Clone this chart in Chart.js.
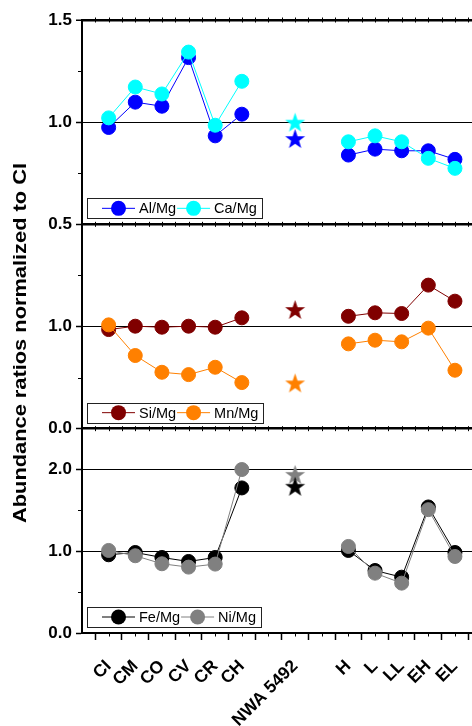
<!DOCTYPE html>
<html><head><meta charset="utf-8">
<script src="https://cdn.jsdelivr.net/npm/chart.js@4.4.1/dist/chart.umd.min.js"></script>
<style>html,body{margin:0;padding:0;background:#fff;}canvas{display:block;}</style>
</head><body>
<canvas id="c" width="472" height="726"></canvas>
<script>
// ---- data ----
const categories = ['CI','CM','CO','CV','CR','CH','','NWA 5492','','H','L','LL','EH','EL'];
const starCategory = 'NWA 5492';
const alMg = [0.974,1.098,1.078,1.316,0.933,1.039,null,0.92,null,0.839,0.868,0.86,0.86,0.818];
const caMg = [1.021,1.172,1.138,1.343,0.985,1.20,null,1.00,null,0.904,0.933,0.904,0.823,0.774];
const siMg = [0.97,1.003,0.993,1.003,0.993,1.085,null,1.167,null,1.10,1.134,1.127,1.405,1.248];
const mnMg = [1.016,0.716,0.552,0.529,0.601,0.451,null,0.448,null,0.83,0.866,0.85,0.984,0.572];
const feMg = [0.957,0.985,0.924,0.875,0.924,1.775,null,1.795,null,1.01,0.765,0.683,1.542,0.985];
const niMg = [1.01,0.945,0.847,0.806,0.843,2.0,null,1.94,null,1.059,0.732,0.61,1.509,0.936];
const topTickLabels = [0.5,1.0,1.5];
const midTickLabels = [0.0,1.0];
const botTickLabels = [0.0,1.0,2.0];
const yTitle = 'Abundance ratios normalized to CI';

// ---- helpers ----
const FONT = '"Liberation Sans", Arial, Helvetica, sans-serif';
const starIdx = categories.indexOf(starCategory);
function makeStar(color, r) {
  const c = document.createElement('canvas');
  const s = Math.ceil(r * 2 + 2);
  c.width = s; c.height = s;
  const g = c.getContext('2d');
  g.fillStyle = color; g.beginPath();
  for (let k = 0; k < 10; k++) {
    const rad = k % 2 === 0 ? r : r * 0.4;
    const a = -Math.PI / 2 + k * Math.PI / 5;
    g.lineTo(s / 2 + rad * Math.cos(a), s / 2 + rad * Math.sin(a) + r * 0.1);
  }
  g.closePath(); g.fill();
  return c;
}
function circles(vals) { return vals.map((v, i) => ({x: i, y: i === starIdx ? null : v})); }
function stars(vals) { return vals.map((v, i) => ({x: i, y: i === starIdx ? v : null})); }

const series = [
  {label:'Al/Mg', vals: alMg, color:'#0000FF', axis:'yTop', order:1, starOrder:0},
  {label:'Ca/Mg', vals: caMg, color:'#00FFFF', axis:'yTop', order:0, starOrder:1},
  {label:'Si/Mg', vals: siMg, color:'#800000', axis:'yMid', order:1, starOrder:1},
  {label:'Mn/Mg', vals: mnMg, color:'#FF8000', axis:'yMid', order:0, starOrder:0},
  {label:'Fe/Mg', vals: feMg, color:'#000000', axis:'yBot', order:1, starOrder:0},
  {label:'Ni/Mg', vals: niMg, color:'#808080', axis:'yBot', order:0, starOrder:1},
];
const datasets = [];
series.forEach(s => {
  datasets.push({label: s.label, data: circles(s.vals), yAxisID: s.axis, order: s.order + 2,
    borderColor: s.color, backgroundColor: s.color, borderWidth: 1, tension: 0,
    pointRadius: 7, pointBorderWidth: 1, pointBackgroundColor: s.color, pointBorderColor: s.color,
    isLegend: true});
  datasets.push({label: s.label + ' star', data: stars(s.vals), yAxisID: s.axis, order: s.starOrder,
    showLine: false, borderColor: s.color, backgroundColor: s.color,
    pointStyle: makeStar(s.color, 10.5), pointRadius: 10, isLegend: false});
});

const axisLabels = {yTop: topTickLabels, yMid: midTickLabels, yBot: botTickLabels};
function yAxis(min, max, step, labels, lines, weight) {
  return {
    type: 'linear', position: 'left', stack: 'panels', stackWeight: 1, weight,
    min, max,
    border: {display: true, color: '#000', width: 2},
    grid: {
      color: c => (lines.includes(c.tick.value) || c.tick.value === max) ? '#000' : 'rgba(0,0,0,0)',
      lineWidth: c => c.tick.value === max ? 2.5 : 1,
      tickColor: c => labels.includes(c.tick.value) ? '#000' : 'rgba(0,0,0,0)',
      tickLength: 6, tickWidth: 1.5
    },
    ticks: {
      stepSize: step, autoSkip: false, padding: 4, color: '#000',
      font: {family: FONT, size: 17, weight: 'bold'},
      callback: v => labels.includes(v) ? v.toFixed(1) : ''
    },
    afterFit: s => { s.width = 82; s.paddingTop = 0; s.paddingBottom = 0; }
  };
}

// minor ticks and mirror ticks on panel top lines
const minorTicks = {
  id: 'minorTicks',
  afterDatasetsDraw(chart) {
    const ctx = chart.ctx, area = chart.chartArea, xs = chart.scales.x;
    ctx.save();
    ctx.strokeStyle = '#000'; ctx.lineWidth = 1;
    ctx.beginPath();
    ['yTop','yMid','yBot'].forEach(id => {
      const sc = chart.scales[id];
      sc.ticks.forEach(t => {
        if (axisLabels[id].includes(t.value) || t.value === sc.min || t.value === sc.max) return;
        const y = Math.round(sc.getPixelForValue(t.value)) + 0.5;
        ctx.moveTo(area.left - 4, y); ctx.lineTo(area.left, y);
      });
      const yt = sc.top;
      xs.ticks.forEach(t => {
        if (t.value <= xs.min) return;
        const x = Math.round(xs.getPixelForValue(t.value)) + 0.5;
        ctx.moveTo(x, yt - 2.5); ctx.lineTo(x, yt + 2.5);
      });
    });
    xs.ticks.forEach(t => {
      if (t.value <= xs.min || Math.abs(t.value % 1) === 0.5) return;
      const x = Math.round(xs.getPixelForValue(t.value)) + 0.5;
      ctx.moveTo(x, area.bottom); ctx.lineTo(x, area.bottom + 3.5);
    });
    ctx.stroke();
    ctx.restore();
  }
};

const panelLegend = {
  id: 'panelLegend',
  afterDraw(chart) {
    const ctx = chart.ctx;
    ['yTop','yMid','yBot'].forEach(id => {
      const sc = chart.scales[id];
      const items = chart.data.datasets.filter(d => d.isLegend && d.yAxisID === id);
      ctx.save();
      ctx.font = '14.5px ' + FONT;
      const left = chart.chartArea.left + 5, h = 20, bottom = sc.bottom - 6, top = bottom - h, cy = top + h / 2;
      let x = left + 15;
      const parts = items.map(d => { const p = {d, x}; x += 33 + 4 + ctx.measureText(d.label).width + 1; return p; });
      const right = x + 4;
      ctx.fillStyle = '#fff'; ctx.fillRect(left, top, right - left, h);
      ctx.strokeStyle = '#222'; ctx.lineWidth = 1;
      ctx.strokeRect(Math.round(left) + 0.5, Math.round(top) + 0.5, Math.round(right - left), h);
      parts.forEach(p => {
        ctx.strokeStyle = p.d.borderColor; ctx.lineWidth = 1;
        ctx.beginPath(); ctx.moveTo(p.x, cy); ctx.lineTo(p.x + 33, cy); ctx.stroke();
        ctx.fillStyle = p.d.borderColor;
        ctx.beginPath(); ctx.arc(p.x + 16.5, cy, 7.5, 0, Math.PI * 2); ctx.fill();
        ctx.fillStyle = '#000'; ctx.textBaseline = 'middle'; ctx.textAlign = 'left';
        ctx.fillText(p.d.label, p.x + 37, cy + 1);
      });
      ctx.restore();
    });
    // y title
    ctx.save();
    ctx.translate(21, 343);
    ctx.rotate(-Math.PI / 2);
    ctx.font = 'bold 17.5px ' + FONT;
    const w = ctx.measureText(yTitle).width;
    ctx.scale(360 / w, 1);
    ctx.fillStyle = '#000'; ctx.textAlign = 'center'; ctx.textBaseline = 'middle';
    ctx.fillText(yTitle, 0, 0);
    ctx.restore();
  }
};

new Chart(document.getElementById('c'), {
  type: 'line',
  data: {datasets},
  options: {
    responsive: false, animation: false, events: [],
    layout: {autoPadding: false, padding: {top: 20, right: 0, bottom: 0, left: 0}},
    plugins: {legend: {display: false}, tooltip: {enabled: false}},
    scales: {
      x: {
        type: 'linear', position: 'bottom', min: -1, max: 13.64,
        border: {display: true, color: '#000', width: 2},
        grid: {drawOnChartArea: false, tickLength: 7, tickWidth: 1.5,
          tickColor: c => Math.abs(c.tick.value % 1) === 0.5 ? '#000' : 'rgba(0,0,0,0)'},
        ticks: {
          stepSize: 0.5, includeBounds: false, autoSkip: false, maxRotation: 45, minRotation: 45,
          padding: 16, color: '#000', font: {family: FONT, size: 17.5, weight: 'bold'},
          callback: v => (Number.isInteger(v) && v >= 0 && v < categories.length) ? categories[v] : ''
        },
        afterFit: s => { s.height = 93; s.paddingLeft = 0; s.paddingRight = 0; }
      },
      yTop: yAxis(0.5, 1.5, 0.25, topTickLabels, [1.0], 3),
      yMid: yAxis(0.0, 2.0, 0.5, midTickLabels, [1.0], 2),
      yBot: yAxis(0.0, 2.5, 0.5, botTickLabels, [1.0, 2.0], 1)
    }
  },
  plugins: [minorTicks, panelLegend]
});
</script>
</body></html>
